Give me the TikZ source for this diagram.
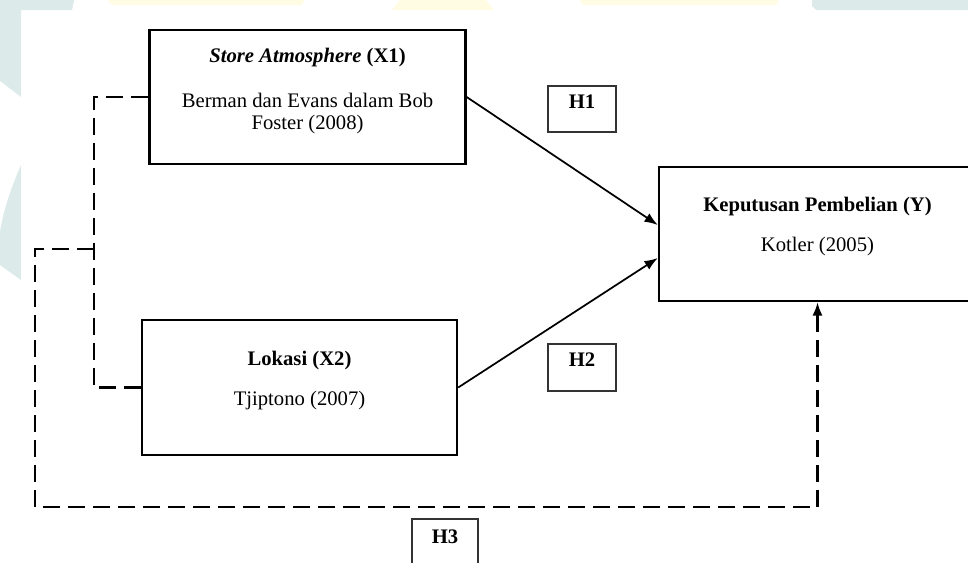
\documentclass[tikz,border=0pt]{standalone}
\usepackage{fontspec}
\setmainfont{Liberation Serif}
\usepackage{tikz}
\usetikzlibrary{arrows.meta}
\definecolor{wmteal}{HTML}{DCEBE9}
\definecolor{wmyellow}{HTML}{FFFCE3}

\begin{document}
\begin{tikzpicture}[x=0.75pt, y=-0.75pt,
  var/.style={draw, shape=rectangle, line width=1.8pt, minimum width=237pt, minimum height=100.5pt},
  vartext/.style={inner sep=0pt, align=center, anchor=base, font=\fontsize{15.5pt}{16.5pt}\selectfont},
  hyp/.style={draw=black!80, shape=rectangle, line width=0.8pt, inner sep=0pt, anchor=base, minimum width=51pt, text height=16.5pt, text depth=18pt, font=\fontsize{15.5pt}{16.5pt}\selectfont\bfseries},
  effect/.style={line width=1.3pt},
  link/.style={dash pattern=on 12.75pt off 6pt, line width=1.6pt},
  >={Latex[length=10pt,width=7.5pt]}]
\useasboundingbox (0,0) rectangle (968,562);
% watermark
\fill[wmteal] (0,0) -- (74,0) -- (72,10) -- (21,10) -- (21,97) -- (0,81) -- cycle;
\fill[wmteal] (21,165) .. controls (10,190) and (3,212) .. (0,232) -- (0,265) -- (21,280) -- cycle;
\fill[wmteal] (812,0) -- (968,0) -- (968,10) -- (816,10) -- (812,6) -- cycle;
\fill[wmyellow] (108,0) -- (305,0) -- (301,5) -- (112,5) -- cycle;
\fill[wmyellow] (400,0) -- (486,0) -- (494,10) -- (392,10) -- cycle;
\fill[wmyellow] (580,0) -- (779,0) -- (776,5) -- (583,5) -- cycle;
% variables
\node[var] (x1) at (307.5,97) {};
\node[var, minimum width=236.25pt, minimum height=101.25pt] (x2) at (299.5,387.5) {};
\node[var, minimum width=237.75pt] (y) at (817.5,234) {};
\node[vartext] (x1txt) at (307.5,129) {\textbf{\textit{Store Atmosphere} (X1)}\\[17.25pt] Berman dan Evans dalam Bob\\ Foster (2008)};
\node[vartext] (x2txt) at (299.5,405) {\textbf{Lokasi (X2)}\\[13.5pt] Tjiptono (2007)};
\node[vartext] (ytxt) at (817.5,251) {\textbf{Keputusan Pembelian (Y)}\\[13.5pt] Kotler (2005)};
% hypotheses
\node[hyp] (h1) at (582,108) {H1};
\node[hyp, text depth=18.75pt] (h2) at (582,366) {H2};
\node[hyp, minimum width=49.5pt, text height=18pt] (h3) at (445,543) {H3};
% links
\coordinate (jn) at (94,249);
\coordinate (lc) at (35,507);
\draw[effect, ->] (x1.east) -- ([yshift=6.75pt]y.west);
\draw[effect, ->] (x2.east) -- ([yshift=-18pt]y.west);
\draw[link] (x1.west) -| (jn) |- (x2.west);
\draw[link, ->] (jn) -| (lc) -| (y.south);
\end{tikzpicture}
\end{document}
